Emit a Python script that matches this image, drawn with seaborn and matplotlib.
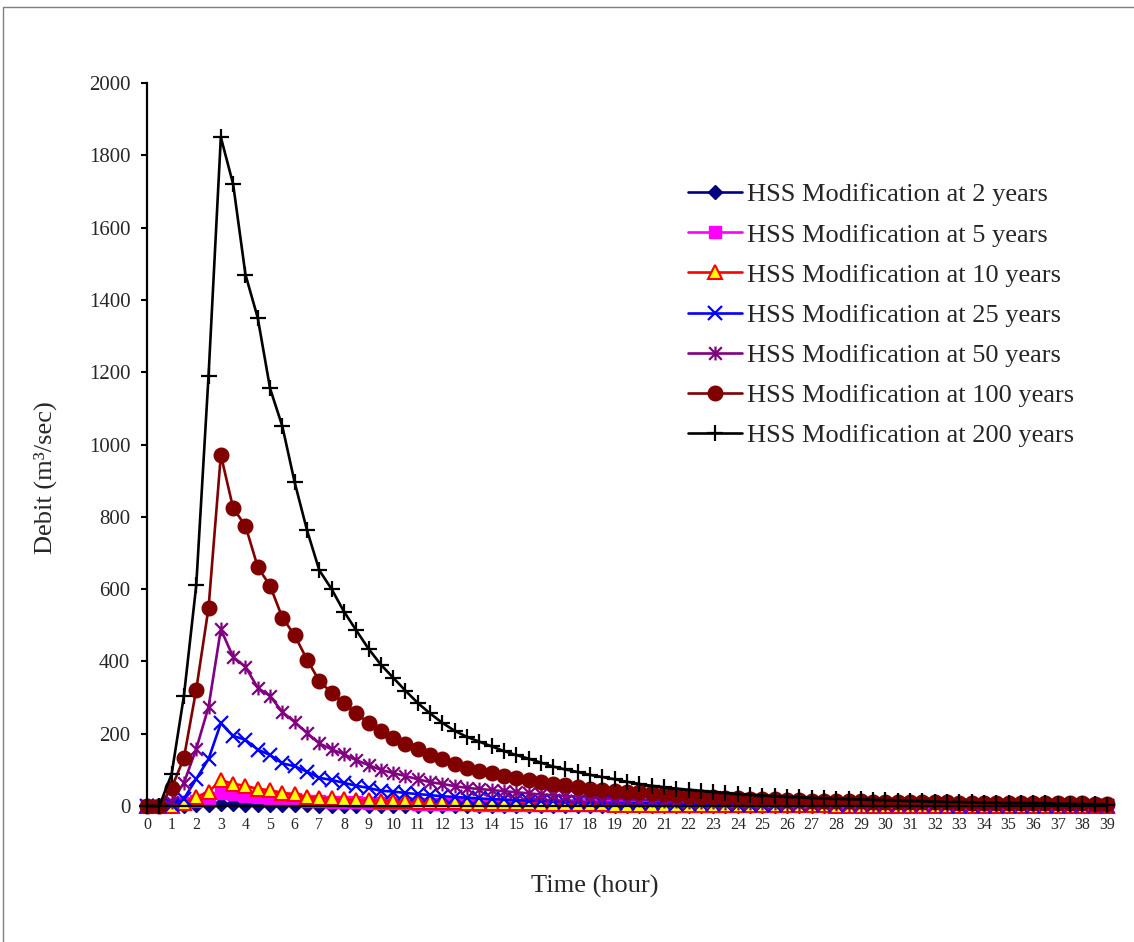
import numpy as np
import pandas as pd
import matplotlib
matplotlib.use("Agg")
import matplotlib.pyplot as plt
import seaborn as sns
from matplotlib.path import Path
from matplotlib.lines import Line2D

# horas de 0 a 39 em passos de meia hora (eixo de categorias)
horas = np.arange(0, 39.5, 0.5)

rotulos = [
    "HSS Modification at 2 years",
    "HSS Modification at 5 years",
    "HSS Modification at 10 years",
    "HSS Modification at 25 years",
    "HSS Modification at 50 years",
    "HSS Modification at 100 years",
    "HSS Modification at 200 years",
]

q2 = [0, 0, 0, 1, 2, 3, 6, 5, 4, 3,
      3, 2, 2, 2, 1, 1, 1, 1, 1, 1,
      1, 1, 1, 0, 0, 0, 0, 0, 0, 0,
      0, 0, 0, 0, 0, 0, 0, 0, 0, 0,
      0, 0, 0, 0, 0, 0, 0, 0, 0, 0,
      0, 0, 0, 0, 0, 0, 0, 0, 0, 0,
      0, 0, 0, 0, 0, 0, 0, 0, 0, 0,
      0, 0, 0, 0, 0, 0, 0, 0, 0]

q5 = [0, 0, 2, 8, 15, 22, 35, 32, 29, 25,
      23, 20, 18, 15, 13, 12, 11, 10, 9, 8,
      8, 7, 6, 6, 5, 5, 5, 4, 4, 4,
      3, 3, 3, 3, 2, 2, 2, 2, 2, 2,
      2, 1, 1, 1, 1, 1, 1, 1, 1, 1,
      1, 1, 1, 1, 1, 1, 1, 1, 1, 1,
      1, 1, 1, 1, 1, 1, 0, 0, 0, 0,
      0, 0, 0, 0, 0, 0, 0, 0, 0]

q10 = [0, 0, 0, 8, 25, 39, 72, 61, 56, 47,
       44, 36, 33, 25, 22, 21, 19, 17, 16, 15,
       14, 13, 12, 11, 10, 10, 9, 9, 8, 8,
       7, 7, 6, 6, 6, 5, 5, 5, 4, 4,
       4, 4, 3, 3, 3, 3, 3, 2, 2, 2,
       2, 2, 2, 2, 2, 2, 1, 1, 1, 1,
       1, 1, 1, 1, 1, 1, 1, 1, 1, 1,
       1, 1, 1, 1, 0, 0, 0, 0, 0]

q25 = [0, 0, 3, 20, 75, 130, 229, 194, 183, 156,
       141, 118, 110, 95, 78, 72, 64, 56, 50, 42,
       40, 36, 33, 30, 27, 25, 23, 21, 19, 18,
       16, 15, 14, 13, 12, 11, 10, 9, 9, 8,
       8, 7, 7, 6, 6, 5, 5, 5, 4, 4,
       4, 4, 3, 3, 3, 3, 3, 2, 2, 2,
       2, 2, 2, 2, 2, 1, 1, 1, 1, 1,
       1, 1, 1, 1, 1, 1, 1, 1, 1]

q50 = [0, 0, 12, 64, 158, 274, 489, 412, 385, 327,
       304, 260, 232, 202, 173, 157, 143, 127, 113, 100,
       91, 83, 74, 66, 61, 55, 50, 47, 44, 41,
       38, 35, 32, 30, 28, 26, 24, 22, 20, 19,
       17, 16, 14, 13, 12, 11, 10, 9, 9, 8,
       7, 7, 6, 6, 5, 5, 5, 4, 4, 4,
       4, 3, 3, 3, 3, 3, 2, 2, 2, 2,
       2, 2, 2, 2, 2, 1, 1, 1, 1]

q100 = [0, 0, 50, 133, 322, 548, 971, 824, 775, 661,
        609, 521, 472, 405, 346, 313, 284, 257, 229, 208,
        188, 172, 157, 141, 130, 116, 105, 96, 91, 84,
        77, 72, 67, 62, 58, 53, 48, 44, 42, 40,
        38, 35, 32, 30, 28, 26, 24, 22, 21, 20,
        19, 18, 17, 16, 15, 14, 14, 13, 13, 12,
        12, 11, 11, 10, 10, 10, 9, 9, 9, 8,
        8, 8, 8, 7, 7, 7, 7, 6, 6]

q200 = [0, 0, 88, 305, 610, 1190, 1850, 1720, 1470, 1350,
        1155, 1050, 895, 763, 652, 600, 538, 486, 435, 391,
        355, 319, 285, 256, 230, 208, 191, 178, 165, 152,
        141, 131, 120, 109, 101, 94, 86, 80, 74, 67,
        61, 56, 52, 48, 45, 42, 39, 36, 33, 31,
        29, 27, 25, 24, 22, 21, 20, 19, 18, 17,
        16, 15, 14, 13, 12, 11, 11, 10, 9, 9,
        8, 8, 7, 7, 6, 6, 5, 5, 4]

series = [q2, q5, q10, q25, q50, q100, q200]

# marcador "estrela" do Excel: x com traço vertical
estrela = Path([(-1, -1), (1, 1), (-1, 1), (1, -1), (0, -1.1), (0, 1.1)],
               [Path.MOVETO, Path.LINETO, Path.MOVETO, Path.LINETO,
                Path.MOVETO, Path.LINETO])

estilos = [
    dict(color="#000080", marker="D", markersize=7, markerfacecolor="#000080", markeredgecolor="#000080", markeredgewidth=1),
    dict(color="#FF00FF", marker="s", markersize=8, markerfacecolor="#FF00FF", markeredgecolor="#FF00FF", markeredgewidth=1),
    dict(color="#FF0000", marker="^", markersize=10, markerfacecolor="#FFFF00", markeredgecolor="#FF0000", markeredgewidth=1.5),
    dict(color="#0000FF", marker="x", markersize=10, markerfacecolor="#0000FF", markeredgecolor="#0000FF", markeredgewidth=1.6),
    dict(color="#800080", marker=estrela, markersize=10, markerfacecolor="#800080", markeredgecolor="#800080", markeredgewidth=1.6),
    dict(color="#800000", marker="o", markersize=10.5, markerfacecolor="#800000", markeredgecolor="#800000", markeredgewidth=1),
    dict(color="#000000", marker="+", markersize=11, markerfacecolor="#000000", markeredgecolor="#000000", markeredgewidth=1.6),
]

sns.set_style("ticks")
plt.rcParams['font.family'] = ['Liberation Serif', 'DejaVu Serif']

fig = plt.figure(figsize=(11.34, 9.42), dpi=100)
ax = fig.add_axes([147 / 1134, 1 - 806 / 942, 960 / 1134, 723 / 942])

for vals, lab, est in zip(series, rotulos, estilos):
    sns.lineplot(x=horas, y=vals, ax=ax, label=lab, linewidth=1.9, clip_on=False, **est)

ax.set_xlim(0, 39)
ax.set_ylim(0, 2000)
ax.set_xticks(range(0, 40))
ax.set_xticklabels([str(i) for i in range(0, 40)], fontsize=11.5)
ax.set_yticks(range(0, 2001, 200))
ax.tick_params(axis='y', labelsize=15, length=4, width=1.5, pad=8, direction='out', color='black')
ax.tick_params(axis='x', length=0, pad=8)

for lado in ['top', 'right']:
    ax.spines[lado].set_visible(False)
ax.spines['left'].set_linewidth(1.6)
ax.spines['bottom'].set_linewidth(1.6)
ax.spines['left'].set_color('black')
ax.spines['bottom'].set_color('black')

ax.set_xlabel("Time (hour)", fontsize=19, va='center')
ax.xaxis.set_label_coords((595 - 147) / 960, (806 - 886) / 723)
ax.set_ylabel("Debit (m³/sec)", fontsize=19, va='center')
ax.yaxis.set_label_coords((45 - 147) / 960, (806 - 478) / 723)

ax.legend(loc='upper left', bbox_to_anchor=(688 / 1134, 1 - 183 / 942),
          bbox_transform=fig.transFigure, frameon=False, fontsize=19,
          handlelength=2.03, handletextpad=0.2, labelspacing=0.63,
          borderaxespad=0, borderpad=0)

# moldura parcial da figura
fig.add_artist(Line2D([3 / 1134, 1], [1 - 7 / 942, 1 - 7 / 942], color='#7f7f7f', lw=1))
fig.add_artist(Line2D([3 / 1134, 3 / 1134], [0, 1 - 7 / 942], color='#7f7f7f', lw=1))

fig.savefig("out.png", dpi=100)
plt.close(fig)
